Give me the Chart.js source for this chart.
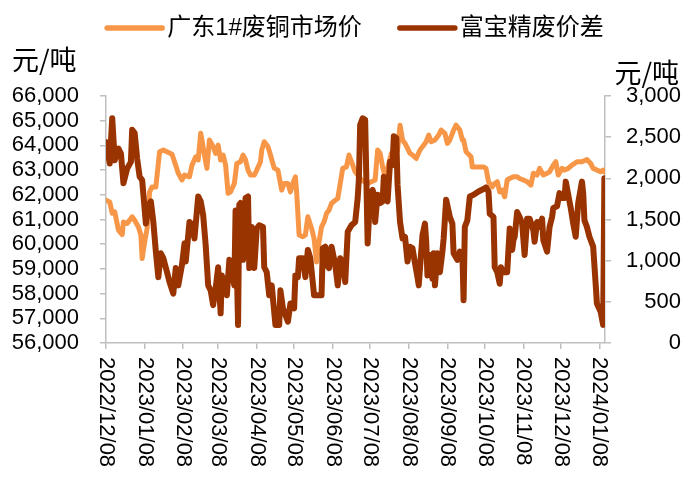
<!DOCTYPE html>
<html lang="zh">
<head>
  <meta charset="UTF-8" />
  <title>广东1#废铜市场价与富宝精废价差</title>
  <script src="https://cdn.jsdelivr.net/npm/chart.js"></script>
  <style>
    body {
      margin: 0;
      background: #fff;
    }
  </style>
</head>
<body>
  <canvas id="spreadChart" width="699" height="482"></canvas>

  <script>
    // x values are calendar days counted from 2022/12/08
    const START = Date.UTC(2022, 11, 8);

    const tickLabels = [
      '2022/12/08', '2023/01/08', '2023/02/08', '2023/03/08', '2023/04/08',
      '2023/05/08', '2023/06/08', '2023/07/08', '2023/08/08', '2023/09/08',
      '2023/10/08', '2023/11/08', '2023/12/08', '2024/01/08'
    ];

    // 广东1#废铜市场价 (left axis)
    const priceDay = [
      0, 3, 5, 7, 10, 13, 14, 17, 21, 23,
      26, 28, 29, 31, 33, 35, 37, 40, 43, 46,
      53, 55, 58, 61, 63, 67, 69, 72, 74, 76,
      77, 79, 81, 83, 86, 88, 90, 92, 94, 96,
      98, 100, 103, 105, 108, 110, 112, 114, 116, 119,
      121, 124, 125, 127, 130, 132, 135, 138, 141, 143,
      146, 148, 150, 152, 153, 155, 158, 160, 162, 165,
      167, 169, 171, 173, 175, 177, 179, 181, 184, 186,
      188, 190, 193, 195, 197, 200, 205, 210, 216, 218,
      220, 222, 224, 226, 229, 230, 234, 236, 238, 240,
      242, 244, 246, 249, 252, 254, 257, 259, 261, 264,
      267, 269, 272, 274, 276, 279, 281, 284, 286, 287,
      289, 293, 294, 298, 303, 305, 307, 310, 312, 314,
      316, 318, 320, 322, 324, 327, 330, 332, 335, 338,
      341, 343, 346, 348, 351, 354, 356, 359, 361, 363,
      366, 368, 371, 374, 376, 378, 382, 386, 389, 391,
      394, 397, 399, 400
    ];
    const priceVal = [
      61780, 61710, 61250, 61310, 60570, 60390, 60900, 60840, 61110, 60970,
      60700, 60370, 59420, 60090, 60640, 62120, 62320, 62320, 63740, 63810,
      63640, 63340, 62870, 62600, 62800, 62730, 63200, 63540, 63410, 64490,
      64220, 63610, 63070, 64220, 63950, 63680, 64010, 63410, 63610, 63200,
      62060, 62120, 62460, 63270, 63340, 63610, 63410, 63000, 62800, 62800,
      63000, 63340, 63810, 64150, 63950, 63610, 63080, 63000, 62190, 62460,
      62460, 62120, 62460, 62730, 62120, 60370, 60300, 60370, 61110, 60640,
      60230, 59280, 60090, 60700, 60900, 61250, 61380, 61650, 61780, 61850,
      62460, 63070, 63130, 63610, 63340, 62930, 62600, 62460, 62600, 63810,
      63680, 63130, 62730, 63070, 63680, 63740, 63810, 64820, 64220, 64080,
      63880, 63680, 63610, 63470, 63810, 63950, 64150, 64420, 64150, 64220,
      64420, 64620, 64490, 64080, 64220, 64620, 64820, 64620, 64220, 64220,
      63740, 63540, 63130, 63130, 63130, 63070, 62530, 62320, 62460, 62530,
      62120, 62190, 61920, 62600, 62660, 62730, 62730, 62660, 62600, 62530,
      62390, 62870, 62800, 63070, 62800, 62870, 62930, 63200, 63340, 62800,
      63070, 63000, 63070, 63200, 63270, 63340, 63340, 63430, 63270, 63070,
      63000, 62930, 63000, 62930
    ];

    // 富宝精废价差 (right axis)
    const spreadDay = [
      0, 3, 5, 7, 10, 12, 14, 17, 20, 21,
      23, 25, 27, 29, 32, 34, 36, 38, 40, 42,
      44, 46, 49, 51, 54, 56, 58, 61, 63, 64,
      67, 69, 71, 74, 76, 78, 80, 82, 84, 86,
      88, 90, 92, 93, 95, 97, 99, 100, 103, 104,
      106, 107, 108, 110, 112, 114, 115, 117, 119, 121,
      123, 126, 127, 129, 131, 133, 136, 139, 140, 142,
      144, 146, 148, 151, 152, 154, 155, 158, 160, 162,
      164, 167, 169, 173, 174, 176, 177, 179, 181, 184,
      186, 188, 190, 192, 194, 197, 200, 202, 203, 204,
      206, 208, 210, 212, 214, 215, 216, 218, 220, 222,
      223, 225, 226, 228, 230, 231, 233, 234, 236, 238,
      240, 242, 244, 246, 248, 250, 251, 253, 254, 256,
      257, 258, 260, 262, 263, 264, 266, 268, 270, 271,
      273, 276, 278, 279, 282, 284, 286, 287, 288, 290,
      292, 295, 299, 303, 305, 307, 308, 311, 312, 314,
      316, 317, 319, 322, 324, 326, 327, 328, 330, 332,
      334, 336, 338, 340, 343, 344, 346, 348, 350, 351,
      354, 356, 358, 359, 362, 364, 366, 368, 369, 371,
      373, 375, 377, 379, 382, 383, 384, 386, 388, 391,
      393, 394, 397, 399, 400
    ];
    const spreadVal = [
      2440, 2180, 2730, 2220, 2360, 2300, 1940, 2120, 2200, 2590,
      2550, 2240, 2020, 1980, 1450, 1670, 1720, 1470, 1110, 800,
      1090, 1030, 860, 740, 600, 910, 700, 950, 1210, 990,
      1470, 1440, 1270, 1780, 1720, 1550, 1190, 700, 640, 460,
      660, 920, 360, 820, 700, 580, 1010, 950, 700, 1610,
      220, 1680, 1700, 1010, 1760, 1780, 910, 1410, 910, 1390,
      1430, 1410, 920, 860, 580, 700, 220, 220, 640, 420,
      340, 260, 480, 420, 820, 800, 1030, 1030, 800, 1130,
      1030, 580, 580, 580, 1150, 1170, 950, 910, 1170, 950,
      700, 1030, 990, 740, 1350, 1430, 1470, 1760, 2000, 2650,
      2730, 2710, 1210, 1800, 1860, 1800, 1470, 1800, 1700, 1720,
      2020, 1760, 1720, 2200, 2160, 2510, 2490, 1920, 1470, 1270,
      1290, 990, 1170, 1150, 970, 800, 700, 1110, 1310, 1450,
      1230, 820, 1070, 780, 1090, 700, 1090, 860, 1110, 1270,
      1740, 1530, 1450, 1090, 1010, 1110, 1090, 520, 1410, 1490,
      1780, 1800, 1840, 1870, 1890, 1840, 1570, 1530, 920, 860,
      720, 920, 860, 860, 1390, 1130, 1250, 1290, 1590, 1530,
      1450, 1070, 1510, 1510, 1370, 1230, 1470, 1410, 1510, 1250,
      1110, 1410, 1530, 1640, 1660, 1820, 1760, 1760, 1960, 1800,
      1640, 1450, 1290, 1700, 1960, 1820, 1490, 1410, 1290, 1170,
      720, 480, 380, 220, 2000
    ];

    const priceColor = '#F79646';
    const spreadColor = '#993300';
    const axisColor = '#BFBFBF';
    const FONT = "'Liberation Sans', 'Noto Sans CJK SC', sans-serif";

    function dayOf(label) {
      const [y, m, d] = label.split('/').map(Number);
      return (Date.UTC(y, m - 1, d) - START) / 864e5;
    }

    function toPoints(days, values) {
      return days.map((d, i) => ({ x: d, y: values[i] }));
    }

    // rotated date labels, unit titles and the legend row
    const decorations = {
      id: 'decorations',
      afterDraw(chart) {
        const { ctx, chartArea, scales } = chart;
        ctx.save();
        ctx.fillStyle = '#000';

        ctx.font = '22px ' + FONT;
        ctx.textAlign = 'left';
        ctx.textBaseline = 'middle';
        tickLabels.forEach(label => {
          const px = scales.x.getPixelForValue(dayOf(label));
          ctx.save();
          ctx.translate(px, chartArea.bottom + 14);
          ctx.rotate(Math.PI / 2);
          ctx.fillText(label, 0, 0);
          ctx.restore();
        });

        ctx.font = "27px 'Noto Sans CJK SC', sans-serif";
        ctx.textAlign = 'left';
        ctx.fillText('元/吨', 12, 60);
        ctx.textAlign = 'right';
        ctx.fillText('元/吨', 679, 73);

        // legend
        ctx.font = '24px ' + FONT;
        const lineLen = 55, gap = 5, itemGap = 38;
        const items = chart.data.datasets.map(ds => ({
          text: ds.label,
          color: ds.borderColor,
          w: lineLen + gap + ctx.measureText(ds.label).width
        }));
        const total = items.reduce((s, it) => s + it.w, 0) + itemGap * (items.length - 1);
        let cx = (chartArea.left + chartArea.right) / 2 - total / 2;
        const cy = 28;
        items.forEach(it => {
          ctx.strokeStyle = it.color;
          ctx.lineWidth = 5.5;
          ctx.lineCap = 'round';
          ctx.beginPath();
          ctx.moveTo(cx, cy);
          ctx.lineTo(cx + lineLen, cy);
          ctx.stroke();
          ctx.textAlign = 'left';
          ctx.fillText(it.text, cx + lineLen + gap, cy);
          cx += it.w + itemGap;
        });

        ctx.restore();
      }
    };

    Chart.defaults.font.family = FONT;
    Chart.defaults.font.size = 22;
    Chart.defaults.color = '#000';

    new Chart(document.getElementById('spreadChart'), {
      type: 'line',
      data: {
        datasets: [
          {
            label: '广东1#废铜市场价',
            data: toPoints(priceDay, priceVal),
            borderColor: priceColor,
            borderWidth: 5,
            yAxisID: 'y',
            order: 2
          },
          {
            label: '富宝精废价差',
            data: toPoints(spreadDay, spreadVal),
            borderColor: spreadColor,
            borderWidth: 6,
            yAxisID: 'y1',
            order: 1
          }
        ]
      },
      options: {
        responsive: false,
        animation: false,
        layout: { padding: { top: 96, right: 18, left: 0, bottom: 0 } },
        elements: {
          point: { radius: 0 },
          line: { tension: 0, borderJoinStyle: 'round', borderCapStyle: 'round' }
        },
        plugins: {
          legend: { display: false },
          tooltip: { enabled: false }
        },
        scales: {
          x: {
            type: 'linear',
            min: 0,
            max: 400.5,
            afterBuildTicks: scale => {
              scale.ticks = tickLabels.map(l => ({ value: dayOf(l) }));
            },
            ticks: { display: false },
            grid: { drawOnChartArea: false, tickLength: 6, color: axisColor, lineWidth: 1.5 },
            border: { color: axisColor, width: 1.5 },
            afterFit: scale => { scale.height = 139; }
          },
          y: {
            position: 'left',
            min: 56000,
            max: 66000,
            ticks: { stepSize: 1000, padding: 21, autoSkip: false },
            grid: { drawOnChartArea: false, tickLength: 6, color: axisColor, lineWidth: 1.5 },
            border: { color: axisColor, width: 1.5 },
            afterFit: scale => { scale.width = 106; }
          },
          y1: {
            position: 'right',
            min: 0,
            max: 3000,
            ticks: { stepSize: 500, crossAlign: 'far', autoSkip: false },
            grid: { drawOnChartArea: false, tickLength: 6, color: axisColor, lineWidth: 1.5 },
            border: { color: axisColor, width: 1.5 },
            afterFit: scale => { scale.width = 76; }
          }
        }
      },
      plugins: [decorations]
    });
  </script>
</body>
</html>
